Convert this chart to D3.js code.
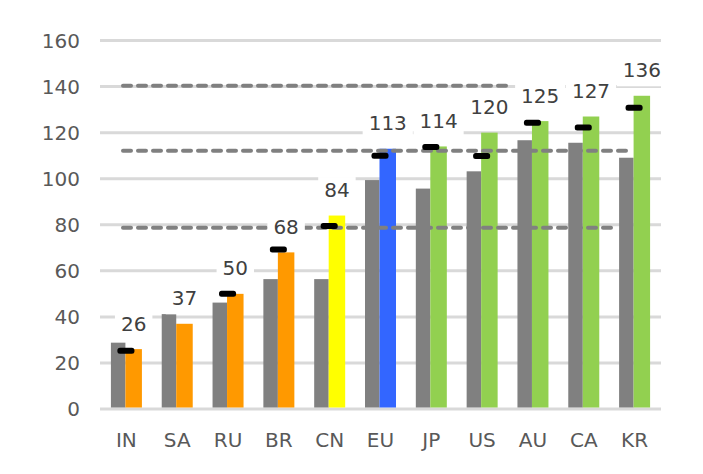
<!DOCTYPE html>
<html><head><meta charset="utf-8">
<script src="https://cdn.jsdelivr.net/npm/d3@7"></script>
<style>body{margin:0;background:#fff}svg{display:block}text{font-family:"DejaVu Sans",Verdana,sans-serif}</style>
</head><body>
<svg id="c" width="703" height="474"></svg>
<script>
const categories = ["IN","SA","RU","BR","CN","EU","JP","US","AU","CA","KR"];
const greyValues = [28.8,41.2,46.2,56.4,56.4,99.4,95.7,103.2,116.7,115.6,109.1];
const mainValues = [26,37,50,68,84,113,114,120,125,127,136];
const mainLabels = ["26","37","50","68","84","113","114","120","125","127","136"];
const markerValues = [25.3,null,50.0,69.2,79.5,110,113.8,109.9,124.3,122.2,130.8];
const mainColors = ["#FF9900","#FF9900","#FF9900","#FF9900","#FFFF00","#3366FF","#92D050","#92D050","#92D050","#92D050","#92D050"];
const yTicks = [0,20,40,60,80,100,120,140,160];
const refLines = [
  {value:140.3, from:"IN", toX:510},
  {value:112.1, from:"IN", toX:632},
  {value:78.7, from:"IN", toX:617}
];

const svg = d3.select("#c");
const x = d3.scaleBand().domain(categories).range([100,659]);
const y = d3.scaleLinear().domain([0,160]).range([409,40.5]);
const bw = x.bandwidth();
const cx = c => x(c) + bw/2;

// gridlines
svg.append("g").selectAll("line").data(yTicks).join("line")
  .attr("x1",100).attr("x2",661).attr("y1",d=>y(d)).attr("y2",d=>y(d))
  .attr("stroke","#d9d9d9").attr("stroke-width",3);

// y tick labels
svg.append("g").selectAll("text").data(yTicks).join("text")
  .attr("x",80).attr("y",d=>y(d)).attr("dy","0.36em").attr("text-anchor","end")
  .attr("font-size",20).attr("fill","#595959").text(d=>d);

// category labels
svg.append("g").selectAll("text").data(categories).join("text")
  .attr("x",d=>cx(d)+1).attr("y",446.5).attr("text-anchor","middle")
  .attr("font-size",20).attr("fill","#595959").text(d=>d);

// grey bars
svg.append("g").selectAll("rect").data(categories).join("rect")
  .attr("x",d=>cx(d)-14.5).attr("width",14.5)
  .attr("y",(d,i)=>y(greyValues[i])).attr("height",(d,i)=>y(0)-1.5-y(greyValues[i]))
  .attr("fill","#808080");

// main bars
svg.append("g").selectAll("rect").data(categories).join("rect")
  .attr("x",d=>cx(d)).attr("width",16.5)
  .attr("y",(d,i)=>y(mainValues[i])).attr("height",(d,i)=>y(0)-1.5-y(mainValues[i]))
  .attr("fill",(d,i)=>mainColors[i]);

// dashed reference lines
svg.append("g").selectAll("line").data(refLines).join("line")
  .attr("x1",d=>x(d.from)+23).attr("x2",d=>d.toX)
  .attr("y1",d=>y(d.value)).attr("y2",d=>y(d.value))
  .attr("stroke","#808080").attr("stroke-width",4)
  .attr("stroke-dasharray","8,7").attr("stroke-linecap","round");

// markers
svg.append("g").selectAll("rect").data(categories.map((c,i)=>({c,v:markerValues[i]})).filter(d=>d.v!=null)).join("rect")
  .attr("x",d=>cx(d.c)-8).attr("width",17)
  .attr("y",d=>y(d.v)-3).attr("height",6).attr("rx",2.5)
  .attr("fill","#000");

// data labels with white background
const lg = svg.append("g");
categories.forEach((c,i)=>{
  const tx = cx(c)+8.25, ty = y(mainValues[i]) - 18.5;
  const g = lg.append("g");
  const r = g.append("rect").attr("fill","#fff");
  const t = g.append("text").attr("x",tx).attr("y",ty).attr("text-anchor","middle")
    .attr("font-size",20).attr("fill","#404040").text(mainLabels[i]);
  const b = t.node().getBBox();
  r.attr("x",b.x-6).attr("width",b.width+12).attr("y",ty-20).attr("height",29);
});
</script>
</body></html>
